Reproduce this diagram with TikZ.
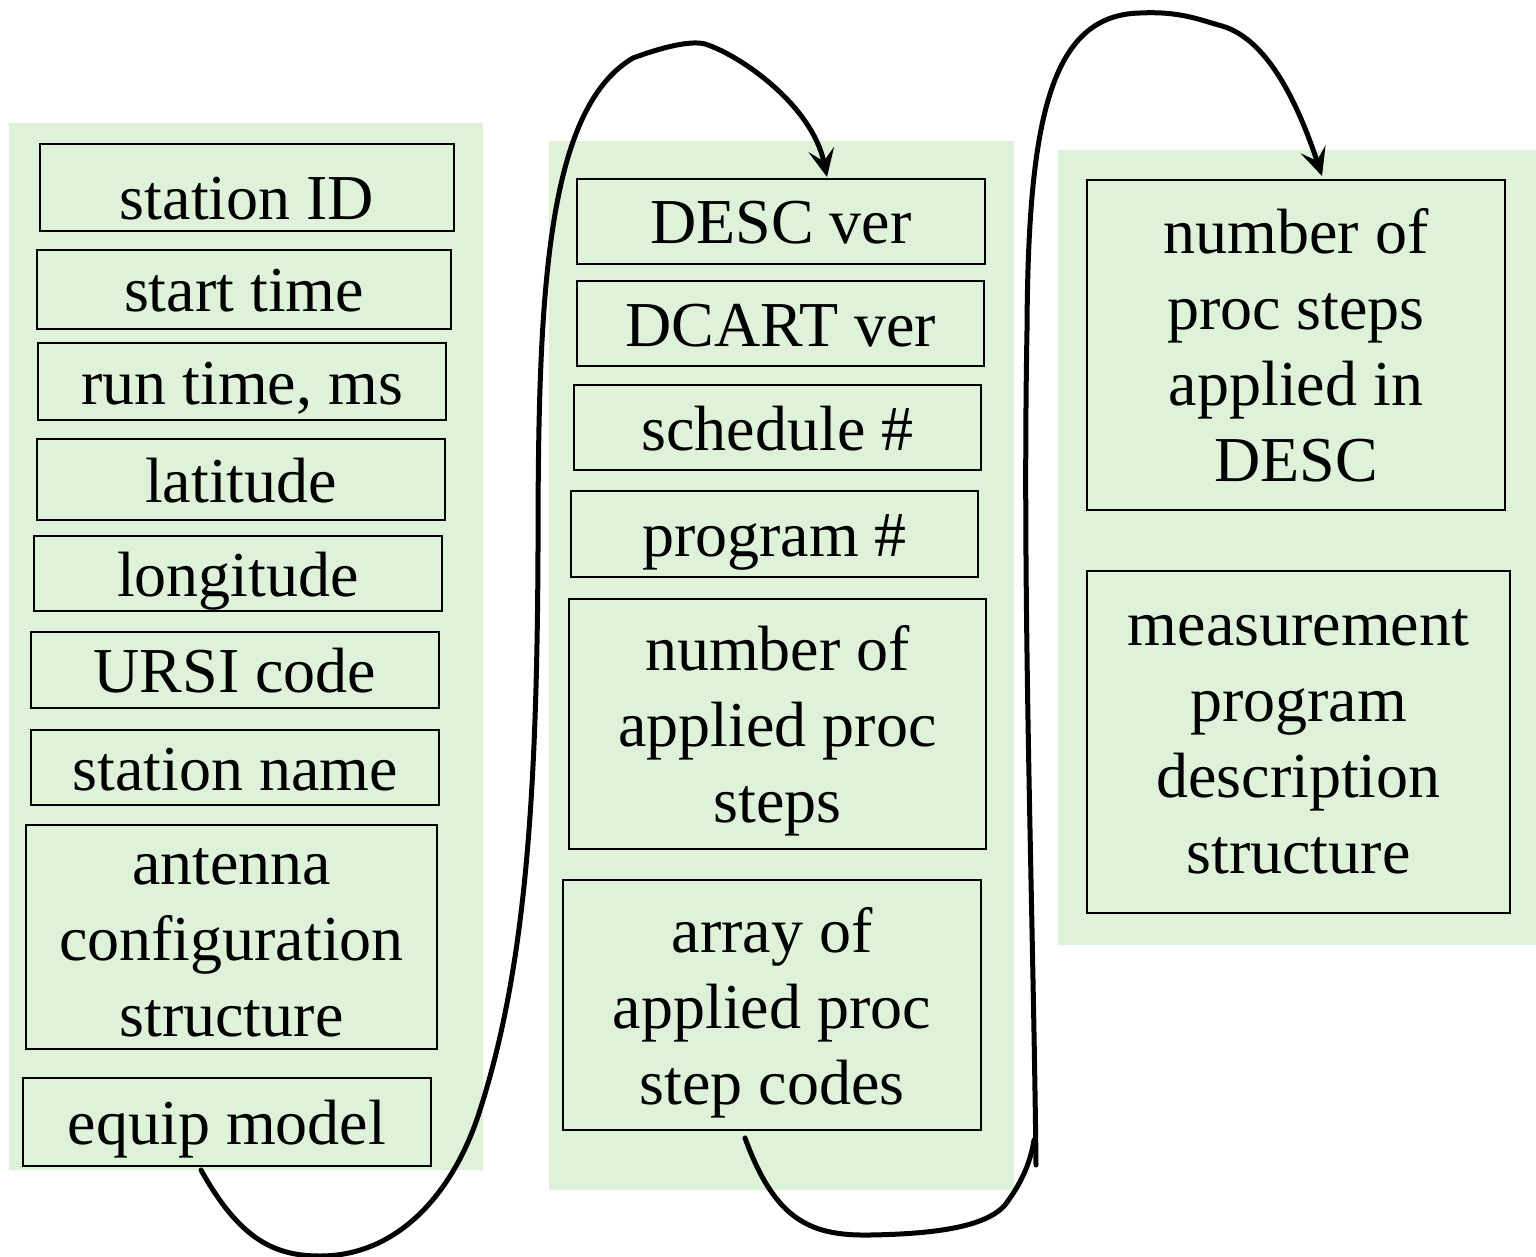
\documentclass[tikz,border=0pt]{standalone}
\usepackage{fontspec}
\setmainfont{Liberation Serif}
\usetikzlibrary{arrows.meta}

% strut that pushes the first line of a field down
\newcommand{\firstline}[1]{\rule{0pt}{#1}}

\begin{document}
\begin{tikzpicture}[x=0.5pt,y=-0.5pt]
  % some colors
  \definecolor{panel}{RGB}{221,242,216}
  % some styles
  \tikzset{
    field/.style 2 args={
      draw=black,
      line width=1pt,
      minimum width=#1*0.5pt,
      minimum height=#2*0.5pt,
      inner sep=0mm,
      outer sep=0mm,
      align=center,
      font=\fontsize{32}{38}\selectfont,
      text height=29pt,
      text depth=6.5pt,
    },
    % several lines: natural size
    lines/.style={text height={}, text depth={}},
    link/.style={black, line width=2.5pt, line cap=round},
    tip/.style={-{Stealth[length=14pt,width=13pt,inset=6pt]}},
  }
  \useasboundingbox (0,0) rectangle (1536,1257);
  % the three record blocks
  \fill[panel] (9,123) rectangle (483,1170);
  \fill[panel] (549,141) rectangle (1014,1190);
  \fill[panel] (1058,150) rectangle (1536,945);
  % block #1
  \node[field={414}{87},text height=37pt,text depth=5pt] (sid) at (247,187.5) {station ID};
  \node[field={414}{79}]  (start)   at (244,289.5)  {start time};
  \node[field={408}{77}]  (run)     at (242,381.5)  {run time, ms};
  \node[field={408}{81}]  (lat)     at (241,479.5)  {latitude};
  \node[field={408}{75}]  (lon)     at (238,573.5)  {longitude};
  \node[field={408}{76}]  (ursi)    at (235,670)    {URSI code};
  \node[field={408}{75}]  (sname)   at (235,767.5)  {station name};
  \node[field={411}{224},lines] (antenna) at (231.5,937)
    {\firstline{24pt}antenna\\configuration\\structure};
  \node[field={408}{88}]  (equip)   at (227,1122)   {equip model};
  % block #2
  \node[field={408}{85}]  (desc)    at (781,221.5)  {DESC ver};
  \node[field={407}{85}]  (dcart)   at (780.5,323.5){DCART ver};
  \node[field={407}{85}]  (sched)   at (777.5,427.5){schedule \#};
  \node[field={407}{86}]  (prog)    at (774.5,534)  {program \#};
  \node[field={417}{250},lines] (nsteps) at (777.5,724)
    {\firstline{29pt}number of\\applied proc\\steps};
  \node[field={418}{250},lines] (codes)  at (772,1005)
    {\firstline{30pt}array of\\applied proc\\step codes};
  % block #3
  \node[field={418}{330},lines] (dsteps) at (1296,345)
    {number of\\proc steps\\applied in\\DESC};
  \node[field={423}{342},lines] (mprog)  at (1298.5,742)
    {measurement\\program\\description\\structure};
  % block #1 => block #2
  \draw[link,tip] ([xshift=-13pt,yshift=-2pt]equip.south)
    .. controls (240,1240) and (275,1256) .. (320,1256)
    .. controls (400,1256) and (455,1190) .. (480,1110)
    .. controls (525,970) and (537,800) .. (538,550)
    .. controls (538,300) and (545,110) .. (633,58)
    .. controls (660,48) and (690,40) .. (705,44)
    .. controls (740,55) and (812,105) .. ([xshift=23pt,yshift=1pt]desc.north);
  % block #2 => block #3
  \coordinate (tail) at (1036,1165);
  \draw[link] ([xshift=-13.5pt,yshift=-4pt]codes.south)
    .. controls (775,1220) and (810,1236) .. (870,1235)
    .. controls (930,1234) and (985,1228) .. (1005,1205)
    .. controls (1020,1185) and (1030,1165) .. (1034,1140);
  \draw[link,tip] (tail)
    .. controls (1033,900) and (1022,600) .. (1027,330)
    .. controls (1028,120) and (1050,15) .. (1140,13)
    .. controls (1180,11) and (1200,20) .. (1222,26)
    .. controls (1270,40) and (1300,110) .. ([xshift=13pt,yshift=2pt]dsteps.north);
\end{tikzpicture}
\end{document}
